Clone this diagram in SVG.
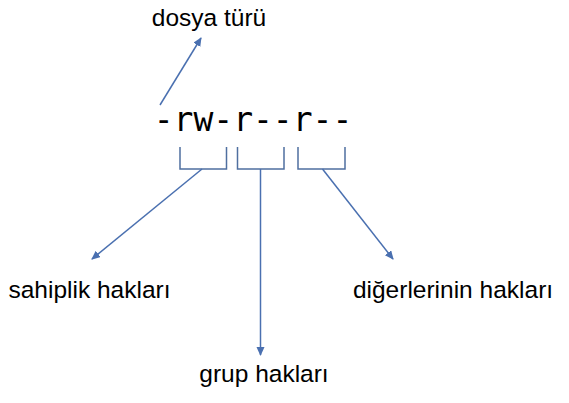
<svg xmlns="http://www.w3.org/2000/svg" width="569" height="403" viewBox="0 0 569 403">
<style>
.lbl{font-family:"Liberation Sans",Arial,sans-serif;font-size:24.5px;fill:#000;text-anchor:middle}
.mono{font-family:"DejaVu Sans Mono","Liberation Mono",monospace;font-size:33px;fill:#000;text-anchor:middle}
.br{fill:none;stroke:#4F6FA0;stroke-width:1.5}
.ar{fill:none;stroke:#4A70B0;stroke-width:1.5;marker-end:url(#ah)}
</style>
<defs>
<marker id="ah" markerWidth="10" markerHeight="10" refX="8" refY="4" orient="auto" markerUnits="userSpaceOnUse">
<path d="M0,0 L9,4 L0,8 Z" fill="#4A70B0"/>
</marker>
</defs>
<rect width="569" height="403" fill="#fff"/>
<g id="perm"><text class="mono" x="253" y="131">-rw-r--r--</text></g>
<g id="bracket-owner"><path class="br" d="M180,147 V169 H226.5 V147"/></g>
<g id="bracket-group"><path class="br" d="M237.5,147 V169 H284 V147"/></g>
<g id="bracket-other"><path class="br" d="M298,147 V169 H345 V147"/></g>
<g id="dosya-turu"><text class="lbl" x="209" y="26">dosya türü</text></g>
<g id="sahiplik"><text class="lbl" x="89.5" y="298">sahiplik hakları</text></g>
<g id="digerleri"><text class="lbl" x="453" y="298">diğerlerinin hakları</text></g>
<g id="grup"><text class="lbl" x="264" y="382">grup hakları</text></g>
<g id="connectors">
<line class="ar" x1="160" y1="105" x2="201" y2="38"/>
<line class="ar" x1="202" y1="169" x2="92" y2="259"/>
<line class="ar" x1="260.5" y1="169" x2="260.5" y2="355"/>
<line class="ar" x1="322.5" y1="169" x2="393" y2="259"/>
</g>
</svg>
